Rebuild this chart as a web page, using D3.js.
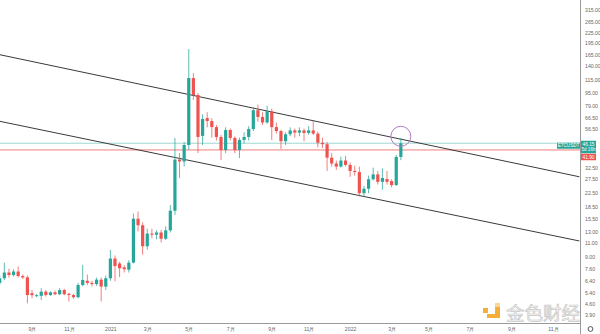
<!DOCTYPE html>
<html>
<head>
<meta charset="utf-8">
<script src="https://cdn.jsdelivr.net/npm/d3@7"></script>
<style>
  html, body { margin: 0; padding: 0; background: #ffffff; }
  svg { display: block; }
</style>
</head>
<body>
<script>
// ETCUSDT weekly candles (log price scale)
const weekStart = [
  "2020-07-20","2020-07-27","2020-08-03","2020-08-10","2020-08-17","2020-08-24","2020-08-31",
  "2020-09-07","2020-09-14","2020-09-21","2020-09-28","2020-10-05","2020-10-12","2020-10-19",
  "2020-10-26","2020-11-02","2020-11-09","2020-11-16","2020-11-23","2020-11-30","2020-12-07",
  "2020-12-14","2020-12-21","2020-12-28","2021-01-04","2021-01-11","2021-01-18","2021-01-25",
  "2021-02-01","2021-02-08","2021-02-15","2021-02-22","2021-03-01","2021-03-08","2021-03-15",
  "2021-03-22","2021-03-29","2021-04-05","2021-04-12","2021-04-19","2021-04-26","2021-05-03",
  "2021-05-10","2021-05-17","2021-05-24","2021-05-31","2021-06-07","2021-06-14","2021-06-21",
  "2021-06-28","2021-07-05","2021-07-12","2021-07-19","2021-07-26","2021-08-02","2021-08-09",
  "2021-08-16","2021-08-23","2021-08-30","2021-09-06","2021-09-13","2021-09-20","2021-09-27",
  "2021-10-04","2021-10-11","2021-10-18","2021-10-25","2021-11-01","2021-11-08","2021-11-15",
  "2021-11-22","2021-11-29","2021-12-06","2021-12-13","2021-12-20","2021-12-27","2022-01-03",
  "2022-01-10","2022-01-17","2022-01-24","2022-01-31","2022-02-07","2022-02-14","2022-02-21",
  "2022-02-28","2022-03-07","2022-03-14","2022-03-21"
];
const open = [
  6.20, 6.63, 7.20, 6.95, 7.30, 6.85, 6.72,
  5.35, 5.13, 5.15, 5.47, 5.21, 5.42, 5.27,
  5.60, 5.30, 5.21, 5.05, 6.02, 6.40, 6.20,
  6.10, 6.50, 5.88, 6.63, 8.80, 8.20, 7.75,
  7.50, 8.30, 15.6, 14.2, 10.5, 12.6, 12.4,
  12.8, 11.7, 13.2, 17.5, 36.5, 35.5, 45.0,
  117.8, 92.3, 51.3, 66.3, 63.5, 58.2, 50.5,
  41.9, 55.8, 49.8, 41.9, 48.4, 50.5, 56.6,
  74.2, 67.3, 62.2, 73.0, 58.2, 55.0, 47.5,
  52.5, 55.5, 53.8, 55.5, 53.5, 55.5, 53.0,
  46.5, 45.5, 37.5, 34.5, 33.0, 36.0, 33.8,
  31.0, 30.5, 22.5, 24.0, 27.5, 29.5, 26.5,
  27.6, 26.8, 25.3, 37.9
];
const high = [
  6.90, 8.30, 7.60, 7.55, 7.85, 7.00, 6.90,
  5.60, 5.30, 5.75, 5.60, 5.50, 5.55, 5.75,
  5.70, 5.40, 5.30, 6.20, 8.03, 7.00, 6.40,
  6.70, 6.70, 6.90, 9.96, 9.20, 8.40, 8.00,
  8.60, 16.8, 17.3, 14.8, 13.5, 13.5, 13.2,
  13.3, 14.0, 19.0, 49.8, 40.0, 47.0, 178.7,
  126.6, 95.0, 70.0, 72.0, 66.0, 60.0, 52.0,
  58.0, 57.0, 51.0, 50.0, 54.0, 59.0, 77.0,
  80.3, 72.0, 79.0, 76.0, 62.0, 56.0, 54.0,
  58.0, 57.0, 58.0, 57.0, 59.0, 63.5, 54.5,
  50.0, 47.0, 40.0, 36.0, 38.0, 38.5, 35.0,
  33.5, 33.0, 25.0, 29.0, 32.5, 31.0, 32.2,
  31.0, 27.5, 39.0, 49.8
];
const low = [
  6.00, 6.45, 6.70, 6.80, 6.70, 6.55, 4.62,
  4.98, 5.05, 4.85, 5.10, 5.15, 5.20, 5.20,
  5.20, 4.75, 4.95, 4.98, 5.90, 6.00, 5.90,
  5.95, 4.75, 5.60, 6.40, 6.35, 6.75, 7.20,
  7.20, 8.20, 13.0, 9.30, 10.0, 11.8, 11.6,
  11.1, 11.5, 12.8, 16.5, 28.0, 33.0, 42.0,
  86.0, 40.1, 45.0, 58.0, 50.0, 48.0, 36.2,
  40.0, 48.0, 40.0, 37.3, 46.0, 48.0, 55.0,
  63.0, 60.0, 61.0, 48.4, 53.0, 42.5, 45.0,
  51.0, 50.0, 51.0, 47.5, 52.0, 52.0, 43.5,
  43.0, 31.0, 33.0, 31.5, 32.5, 33.0, 28.5,
  29.0, 21.5, 21.5, 22.5, 27.0, 25.5, 23.7,
  25.5, 24.5, 25.0, 36.2
];
const close = [
  6.63, 7.20, 6.95, 7.30, 6.85, 6.72, 5.21,
  5.20, 5.20, 5.47, 5.21, 5.42, 5.27, 5.60,
  5.27, 5.21, 5.05, 6.02, 6.47, 6.20, 6.10,
  6.50, 5.88, 6.63, 8.80, 7.90, 7.65, 7.55,
  8.30, 15.6, 14.2, 10.5, 12.6, 12.4, 12.8,
  11.7, 13.2, 17.5, 36.5, 35.5, 45.0, 117.8,
  92.3, 50.5, 65.4, 63.5, 58.2, 50.5, 41.9,
  55.8, 49.8, 41.9, 48.4, 50.5, 56.6, 74.2,
  67.3, 62.2, 73.1, 58.2, 55.0, 47.5, 52.5,
  55.5, 53.8, 55.5, 53.5, 55.5, 53.0, 46.5,
  45.5, 37.5, 34.5, 33.0, 36.0, 33.8, 31.0,
  30.5, 22.5, 24.0, 27.5, 29.5, 26.5, 28.0,
  26.5, 25.3, 37.9, 46.15
];

// price axis labels
const priceTicks = [315, 265, 225, 195, 165, 140, 115, 95, 79, 66.5, 56.5,
                    32.5, 27.5, 22.5, 18.5, 15.5, 13, 11, 9, 7.6, 6.4, 5.4, 4.6, 3.9];
// time axis labels
const timeTickDates = ["2020-09-07","2020-11-02","2021-01-04","2021-03-01","2021-05-03","2021-07-05",
                       "2021-09-06","2021-11-01","2022-01-03","2022-03-07","2022-05-02","2022-07-04",
                       "2022-09-05","2022-11-07"];
const timeTickLabels = ["9月","11月","2021","3月","5月","7月","9月","11月","2022","3月","5月","7月","9月","11月"];

// descending channel (two parallel trend lines) and horizontal level
const channelUpper = [{date: "2020-07-18", price: 165.4}, {date: "2022-12-17", price: 28.5}];
const channelLower = [{date: "2020-07-18", price: 63.5},  {date: "2022-12-17", price: 11.33}];
const levelPrice = 41.90;
const lastPrice = 46.15;
const countdown = "5d 16h";
const symbol = "ETCUSDT";
const markCircle = {date: "2022-03-21", price: 51};

const W = 600, H = 334;
const plotRight = 580, plotBottom = 323;
const parse = d3.utcParse("%Y-%m-%d");

const candles = weekStart.map((d, i) => ({
  date: parse(d), o: open[i], h: high[i], l: low[i], c: close[i]
}));

const x = d3.scaleUtc()
  .domain([parse("2020-09-07"), parse("2022-11-07")])
  .range([32, 553]);
const y = d3.scaleLog()
  .domain([95, 9])
  .range([93, 257]);

const up = "#26a69a", down = "#ef5350";
const font = "'Liberation Sans', Arial, sans-serif";

const svg = d3.select("body").append("svg")
  .attr("width", W).attr("height", H)
  .style("background", "#fff");

svg.append("defs").append("clipPath").attr("id", "plot")
  .append("rect").attr("x", 0).attr("y", 0).attr("width", plotRight).attr("height", plotBottom);

const plot = svg.append("g").attr("clip-path", "url(#plot)");

// horizontal levels
plot.append("line")
  .attr("x1", 0).attr("x2", plotRight)
  .attr("y1", y(lastPrice)).attr("y2", y(lastPrice))
  .attr("stroke", up).attr("stroke-opacity", 0.45).attr("stroke-width", 1);
plot.append("line")
  .attr("x1", 0).attr("x2", plotRight)
  .attr("y1", y(levelPrice)).attr("y2", y(levelPrice))
  .attr("stroke", down).attr("stroke-opacity", 0.75).attr("stroke-width", 1);

// channel lines
const trend = d3.line().x(d => x(parse(d.date))).y(d => y(d.price));
[channelUpper, channelLower].forEach(seg => {
  plot.append("path").attr("d", trend(seg))
    .attr("fill", "none").attr("stroke", "#3a3a3a").attr("stroke-width", 1);
});

// candles
const bw = 3.2;
const g = plot.selectAll("g.candle").data(candles).join("g").attr("class", "candle");
g.append("line")
  .attr("x1", d => x(d.date)).attr("x2", d => x(d.date))
  .attr("y1", d => y(d.h)).attr("y2", d => y(d.l))
  .attr("stroke", d => d.c >= d.o ? up : down)
  .attr("stroke-opacity", 0.75)
  .attr("stroke-width", 1);
g.append("rect")
  .attr("x", d => x(d.date) - bw / 2)
  .attr("width", bw)
  .attr("y", d => y(Math.max(d.o, d.c)))
  .attr("height", d => Math.max(1, Math.abs(y(d.o) - y(d.c))))
  .attr("fill", d => d.c >= d.o ? up : down);

// highlight circle
plot.append("circle")
  .attr("cx", x(parse(markCircle.date))).attr("cy", y(markCircle.price))
  .attr("r", 10)
  .attr("fill", "none").attr("stroke", "#b07cc6").attr("stroke-width", 1);

// watermark
const wm = svg.append("g").attr("opacity", 0.9);
wm.append("rect").attr("x", 483).attr("y", 308).attr("width", 5).attr("height", 5).attr("fill", "#f5a623");
wm.append("path").attr("d", "M495,303 h5 v15 h-13 v-4 h8 z").attr("fill", "#f5a623");
wm.append("rect").attr("x", 495).attr("y", 303).attr("width", 5).attr("height", 4).attr("fill", "#fbd38d");
wm.append("text")
  .attr("x", 506).attr("y", 320)
  .attr("font-family", "'Noto Sans CJK SC', sans-serif")
  .attr("font-size", 18.5)
  .attr("fill", "#f3f3f3").attr("stroke", "#c4c4c4").attr("stroke-width", 0.7)
  .text("金色财经");

// axes lines
svg.append("line").attr("x1", plotRight + 0.5).attr("x2", plotRight + 0.5)
  .attr("y1", 0).attr("y2", H).attr("stroke", "#9a9a9a").attr("stroke-width", 1);
svg.append("line").attr("x1", 0).attr("x2", plotRight)
  .attr("y1", plotBottom + 0.5).attr("y2", plotBottom + 0.5).attr("stroke", "#9a9a9a").attr("stroke-width", 1);

// price axis
const yAxis = d3.axisRight(y).tickValues(priceTicks).tickFormat(d3.format(".2f")).tickSize(0).tickPadding(5);
const ya = svg.append("g").attr("transform", `translate(${plotRight},0)`).call(yAxis);
ya.select(".domain").remove();
ya.selectAll("text").attr("font-family", font).attr("font-size", 5.2).attr("fill", "#666");

// time axis
const xAxis = d3.axisBottom(x).tickValues(timeTickDates.map(parse))
  .tickFormat((d, i) => timeTickLabels[i]).tickSize(0).tickPadding(4);
const xa = svg.append("g").attr("transform", `translate(0,${plotBottom})`).call(xAxis);
xa.select(".domain").remove();
xa.selectAll("text").attr("font-family", font).attr("font-size", 5.2).attr("fill", "#666");

// price labels on the scale
const yp = y(lastPrice);
svg.append("rect").attr("x", 557).attr("y", yp - 0.5).attr("width", 23).attr("height", 6).attr("fill", up);
svg.append("text").attr("x", 568.5).attr("y", yp + 4.2).attr("text-anchor", "middle")
  .attr("font-family", font).attr("font-size", 4.6).attr("fill", "#fff").text(symbol);
svg.append("rect").attr("x", 581).attr("y", yp - 2.5).attr("width", 15).attr("height", 12.5).attr("fill", up);
svg.append("text").attr("x", 588.5).attr("y", yp + 2.6).attr("text-anchor", "middle")
  .attr("font-family", font).attr("font-size", 4.8).attr("fill", "#fff").text(d3.format(".2f")(lastPrice));
svg.append("text").attr("x", 588.5).attr("y", yp + 8.2).attr("text-anchor", "middle")
  .attr("font-family", font).attr("font-size", 4.6).attr("fill", "#fff").text(countdown);
svg.append("rect").attr("x", 581).attr("y", yp + 10.5).attr("width", 15).attr("height", 6.5).attr("fill", down);
svg.append("text").attr("x", 588.5).attr("y", yp + 15.6).attr("text-anchor", "middle")
  .attr("font-family", font).attr("font-size", 4.8).attr("fill", "#fff").text(d3.format(".2f")(levelPrice));

// settings icon in the corner
svg.append("circle").attr("cx", 590.5).attr("cy", 329).attr("r", 2.4)
  .attr("fill", "none").attr("stroke", "#555").attr("stroke-width", 1);
</script>
</body>
</html>
